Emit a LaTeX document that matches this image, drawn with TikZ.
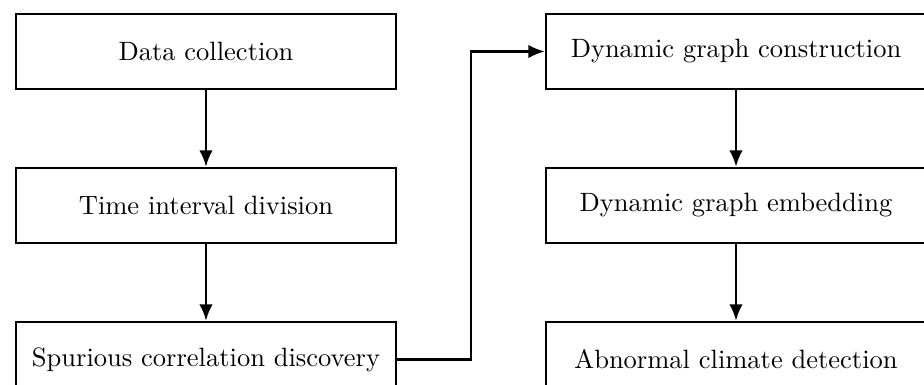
\documentclass[tikz,border=0pt]{standalone}
\usepackage{tikz}
\usetikzlibrary{arrows.meta, positioning, calc}

\begin{document}
\begin{tikzpicture}[
    stage/.style={
        draw=black, line width=1pt, minimum width=152pt, minimum height=30pt,
        align=center, font=\fontsize{10.6}{13}\selectfont, inner sep=0pt
    },
    arr/.style={-{Latex[length=2.3mm, width=1.9mm]}, line width=1pt},
    node distance=30.6pt
]

% === Frame ===
\useasboundingbox (0,0) rectangle (369.6pt,-154pt);

% === Left column ===
\node[stage] (dc) at (82.4pt,-20.6pt) {Data collection};
\node[stage, below=of dc] (tid) {Time interval division};
\node[stage, below=of tid] (scd) {Spurious correlation discovery};

% === Right column ===
\node[stage] (dgc) at (294.4pt,-20.6pt) {Dynamic graph construction};
\node[stage, below=of dgc] (dge) {Dynamic graph embedding};
\node[stage, below=of dge] (acd) {Abnormal climate detection};

% === Arrows ===
\draw[arr] (dc) -- (tid);
\draw[arr] (tid) -- (scd);
\draw[arr] (dgc) -- (dge);
\draw[arr] (dge) -- (acd);

% === Link between columns ===
\coordinate (mid) at ($(scd.east)!0.5!(acd.west)$);
\draw[arr] (scd.east) -- (mid) |- (dgc.west);

\end{tikzpicture}
\end{document}
